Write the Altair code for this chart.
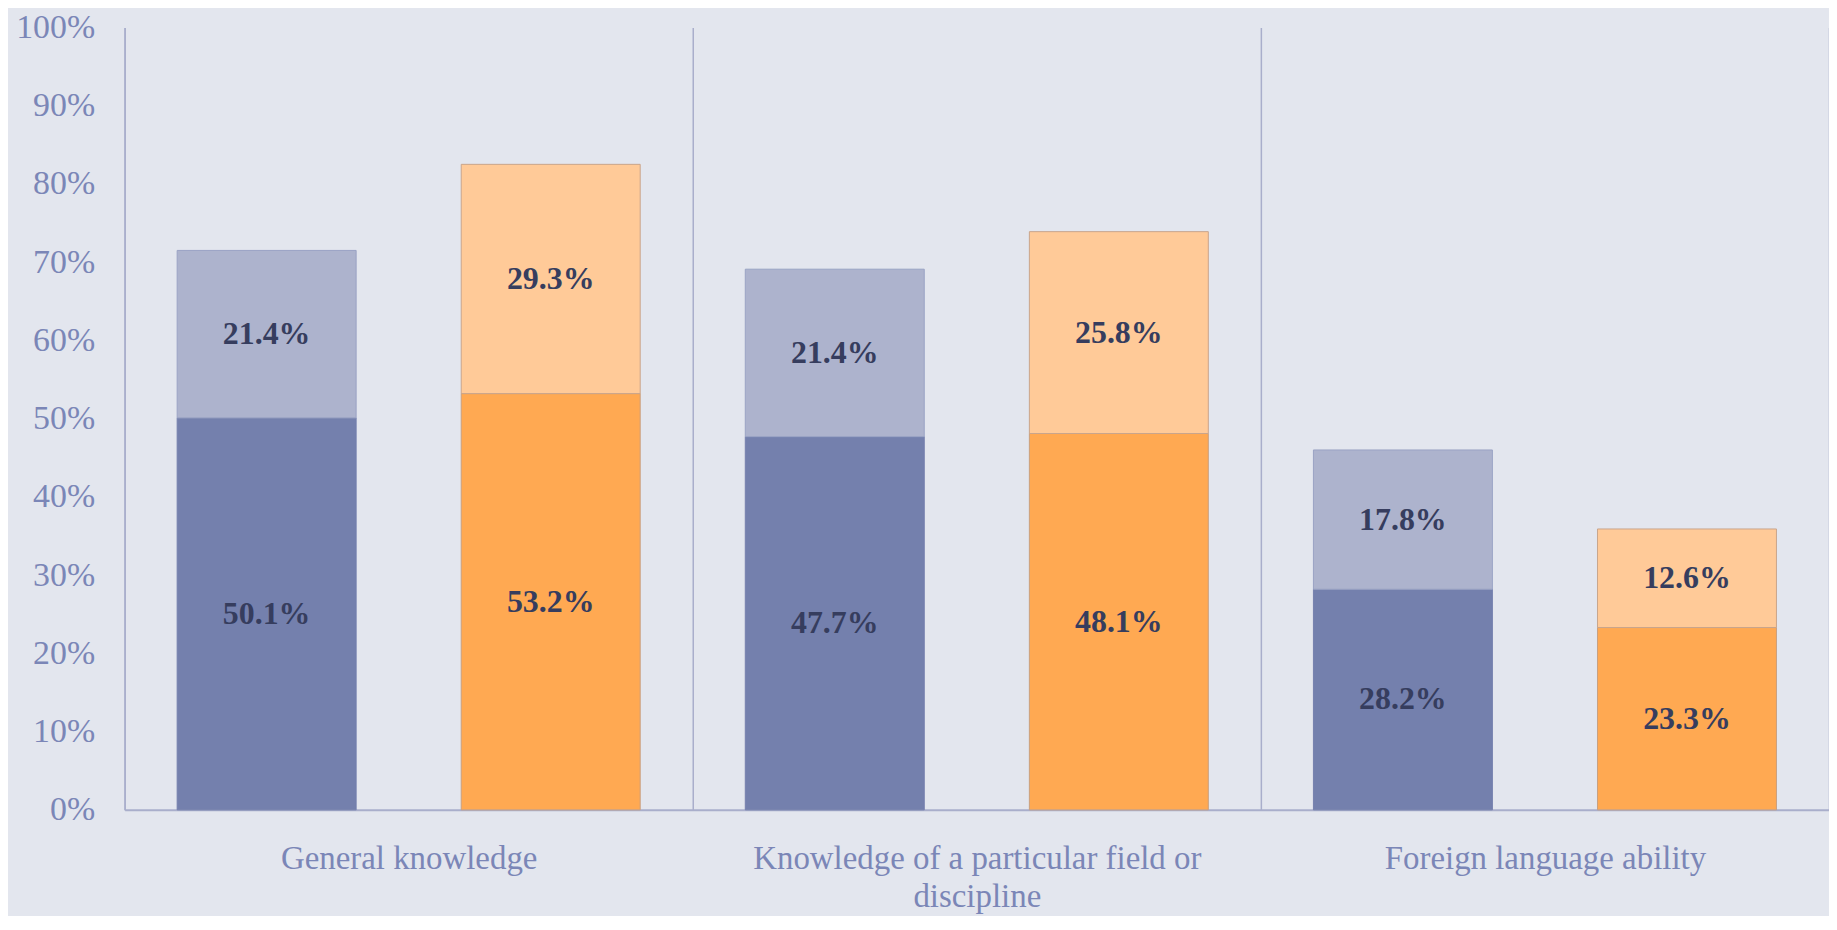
import json
import altair as alt
import pandas as pd

# ---- data ----
categories = [
    "General knowledge",
    "Knowledge of a particular field or discipline",
    "Foreign language ability",
]
groups = ["Series 1", "Series 2"]
parts = ["base", "top"]
series1_base = [50.1, 47.7, 28.2]
series1_top = [21.4, 21.4, 17.8]
series2_base = [53.2, 48.1, 23.3]
series2_top = [29.3, 25.8, 12.6]
y_ticks = [0, 10, 20, 30, 40, 50, 60, 70, 80, 90, 100]
wrapped_labels = {
    "Knowledge of a particular field or discipline": [
        "Knowledge of a particular field or",
        "discipline",
    ]
}

# ---- styles ----
BG = "#E3E6EE"
AXIS_COLOR = "#A9AECB"
LABEL_COLOR = "#7B86B7"
TEXT_COLOR = "#363D5E"
FONT = "Liberation Serif"
keys = ["Series 1 base", "Series 1 top", "Series 2 base", "Series 2 top"]
fills = ["#7480AD", "#ADB3CD", "#FFA952", "#FFCA98"]
strokes = ["#7480AD", "#9AA3C4", "#C9A080", "#C9A58C"]

rows = []
for i, c in enumerate(categories):
    for g, b, t in ((groups[0], series1_base, series1_top), (groups[1], series2_base, series2_top)):
        rows.append({"category": c, "group": g, "part": parts[0], "order": 0, "value": b[i], "key": f"{g} {parts[0]}"})
        rows.append({"category": c, "group": g, "part": parts[1], "order": 1, "value": t[i], "key": f"{g} {parts[1]}"})
df = pd.DataFrame(rows)

label_expr = (
    "indexof(" + json.dumps(list(wrapped_labels.keys())) + ", datum.value) >= 0 ? "
    + json.dumps(wrapped_labels) + "[datum.value] : datum.value"
)

x_enc = alt.X(
    "category:N",
    sort=categories,
    scale=alt.Scale(paddingInner=0, paddingOuter=0),
    axis=alt.Axis(
        title=None,
        labelAngle=0,
        labelFont=FONT,
        labelFontSize=33,
        labelColor=LABEL_COLOR,
        labelPadding=33,
        labelLineHeight=38,
        labelLimit=800,
        labelExpr=label_expr,
        ticks=False,
        grid=True,
        gridColor=AXIS_COLOR,
        gridWidth=1.5,
        tickBand="extent",
        domainColor=AXIS_COLOR,
        domainWidth=2,
    ),
)
xoff_enc = alt.XOffset(
    "group:N", sort=groups, scale=alt.Scale(paddingInner=0.37, paddingOuter=0.185)
)

base = alt.Chart(df).transform_stack(
    stack="value",
    groupby=["category", "group"],
    as_=["v0", "v1"],
    sort=[alt.SortField("order", order="ascending")],
).transform_calculate(
    mid="(datum.v0 + datum.v1) / 2",
    lab="format(datum.value, '.1f') + '%'",
)

y_scale = alt.Scale(domain=[0, 100], nice=False)

bars = base.mark_bar(strokeWidth=1).encode(
    x=x_enc,
    xOffset=xoff_enc,
    y=alt.Y(
        "v0:Q",
        scale=y_scale,
        axis=alt.Axis(
            title=None,
            values=y_ticks,
            labelExpr="datum.value + '%'",
            labelFont=FONT,
            labelFontSize=34,
            labelColor=LABEL_COLOR,
            labelPadding=30,
            ticks=False,
            grid=False,
            domainColor=AXIS_COLOR,
            domainWidth=1.5,
        ),
    ),
    y2="v1:Q",
    fill=alt.Fill("key:N", scale=alt.Scale(domain=keys, range=fills), legend=None),
    stroke=alt.Stroke("key:N", scale=alt.Scale(domain=keys, range=strokes), legend=None),
)

labels = base.mark_text(
    font=FONT, fontSize=32, fontWeight="bold", color=TEXT_COLOR, baseline="middle", align="center"
).encode(
    x=alt.X("category:N", sort=categories),
    xOffset=alt.XOffset("group:N", sort=groups),
    y=alt.Y("mid:Q", scale=y_scale),
    text="lab:N",
)

chart = (
    alt.layer(bars, labels)
    .properties(
        width=1710,
        height=785,
        background=BG,
        padding={"left": 117, "top": 18, "right": 0, "bottom": 105},
        autosize=alt.AutoSizeParams(type="none"),
    )
    .configure_view(stroke=None)
)

chart.save("out.html", embed_options={"renderer": "svg", "actions": False})
